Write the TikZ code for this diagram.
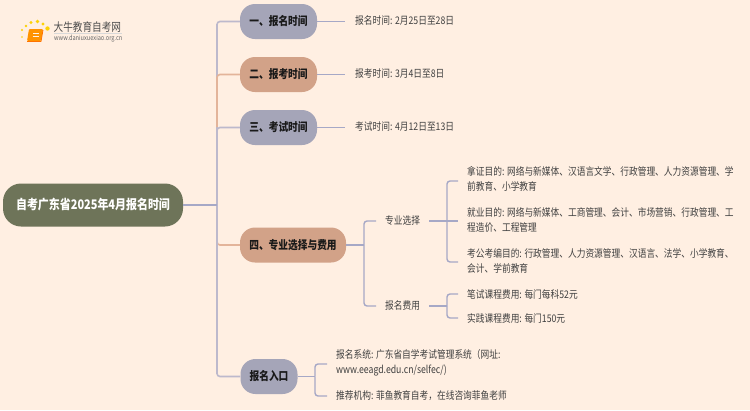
\documentclass[tikz,border=0pt]{standalone}
\usepackage{fontspec}
\setmainfont[FakeStretch=0.83]{Noto Sans CJK SC}
\definecolor{bgc}{HTML}{FFEFE2}
\definecolor{rootc}{HTML}{6E7459}
\definecolor{bluec}{HTML}{A5A5B8}
\definecolor{tanc}{HTML}{D2A288}
\definecolor{lnb}{HTML}{A6A8C6}
\definecolor{lntr}{HTML}{BDB9CC}
\definecolor{lnt}{HTML}{E3B49A}
\definecolor{txt}{HTML}{404040}
\tikzset{
 x=1pt,y=-1pt,
 rootbox/.style={fill=rootc,rounded corners=18pt,text=white,font=\fontsize{13.2}{14}\selectfont\bfseries,minimum width=180pt,minimum height=43pt,inner sep=0pt},
 topicb/.style={fill=bluec,rounded corners=15pt,text=black!90,font=\fontsize{11.7}{13}\selectfont\bfseries,minimum height=35pt,inner sep=0pt},
 topict/.style={topicb,fill=tanc},
 leaf/.style={text=txt,font=\fontsize{10.5}{15}\selectfont,anchor=west,inner sep=0pt,align=left},
 lb/.style={draw=lnb,line width=1.4pt,rounded corners=3pt},
 ltr/.style={draw=lntr,line width=1.6pt,rounded corners=3pt},
 lt/.style={draw=lnt,line width=1.6pt,rounded corners=3pt},
}
\begin{document}
\begin{tikzpicture}
\useasboundingbox (0,0) rectangle (750,410);
\fill[bgc] (0,0) rectangle (750,410);
% logo
\fill[orange!85!yellow,rounded corners=1pt] (29,29) -- (43,29) -- (41,41) -- (27,41) -- cycle;
\draw[white!90!orange,line width=.7pt] (33,33) -- (39,33) (32.5,36) -- (38.5,36);
\draw[orange!90!red,line width=.8pt] (27,41.5) -- (41,41.5) -- (43,30);
\fill[yellow!70!orange] (22,37) circle (.8) (22,30) circle (1.1) (26,26) circle (1.4) (31,22.5) circle (1.7) (37.5,21.5) circle (1.8) (43,24) circle (1.7) (47.5,28.5) circle (2.2);
\node[anchor=west,inner sep=0pt,text=black!70,font=\fontsize{11.6}{12}\selectfont] (logo) at (53.5,27) {大牛教育自考网};
\node[anchor=west,inner sep=0pt,text=black!60,font=\fontsize{6.8}{7}\selectfont] (url) at (54,39) {www.daniuxuexiao.org.cn};
\draw[black!15,line width=.4pt] (54,33.5) -- (122,33.5);
% nodes
\node[rootbox] (root) at (93,205) {自考广东省2025年4月报名时间};
\node[topicb,minimum width=77pt] (t1) at (278.5,21.5) {一、报名时间};
\node[topict,minimum width=77pt] (t2) at (278.5,74.5) {二、报考时间};
\node[topicb,minimum width=77pt] (t3) at (278.5,127.5) {三、考试时间};
\node[topict,minimum width=106pt] (t4) at (293,245) {四、专业选择与费用};
\node[topicb,minimum width=57pt] (t5) at (269,376.5) {报名入口};
\node[leaf] (a1) at (355,21) {报名时间: 2月25日至28日};
\node[leaf] (a2) at (355,74) {报考时间: 3月4日至8日};
\node[leaf] (a3) at (355,127) {考试时间: 4月12日至13日};
\node[leaf] (s1) at (385,221) {专业选择};
\node[leaf] (s2) at (385,306) {报名费用};
\node[leaf] (m1) at (467,179) {拿证目的: 网络与新媒体、汉语言文学、行政管理、人力资源管理、学\\前教育、小学教育};
\node[leaf] (m2) at (467,220) {就业目的: 网络与新媒体、工商管理、会计、市场营销、行政管理、工\\程造价、工程管理};
\node[leaf] (m3) at (467,261) {考公考编目的: 行政管理、人力资源管理、汉语言、法学、小学教育、\\会计、学前教育};
\node[leaf] (f1) at (467,294) {笔试课程费用: 每门每科52元};
\node[leaf] (f2) at (467,318) {实践课程费用: 每门150元};
\node[leaf] (e1) at (336,363) {报名系统: 广东省自学考试管理系统（网址:\\www.eeagd.edu.cn/selfec/)};
\node[leaf] (e2) at (336,396) {推荐机构: 菲鱼教育自考，在线咨询菲鱼老师};
% connectors
\coordinate (tr) at (217,205);
\coordinate (j4) at (364,245);
\coordinate (j5) at (315,376.5);
\coordinate (k1) at (447,221);
\coordinate (k2) at (447,306);
\draw[ltr] (tr) |- (t1.west);
\draw[lt] (217,127) |- (t2.west);
\draw[lt] (tr) |- (t4.west);
\draw[ltr] (tr) |- (t3.west);
\draw[ltr] (tr) |- (t5.west);
\draw[lb] (root.east) -- (tr);
\draw[lb] (t4.east) -- (j4);
\draw[lb] (j4) |- (376,221);
\draw[lb] (j4) |- (376,306);
\draw[lb] (429,221) -- (458,221);
\draw[lb] (k1) |- (458,181);
\draw[lb] (k1) |- (458,262);
\draw[lb] (429,306) -- (k2);
\draw[lb] (k2) |- (f1.west -| 458,0);
\draw[lb] (k2) |- (f2.west -| 458,0);
\draw[lb] (t5.east) -- (j5);
\draw[lb] (j5) |- (327,364);
\draw[lb] (j5) |- (e2.west -| 327,0);
\draw[lb] (t1.east) -- (345,21.5);
\draw[lb] (t2.east) -- (345,74.5);
\draw[lb] (t3.east) -- (345,127.5);
\end{tikzpicture}
\end{document}
